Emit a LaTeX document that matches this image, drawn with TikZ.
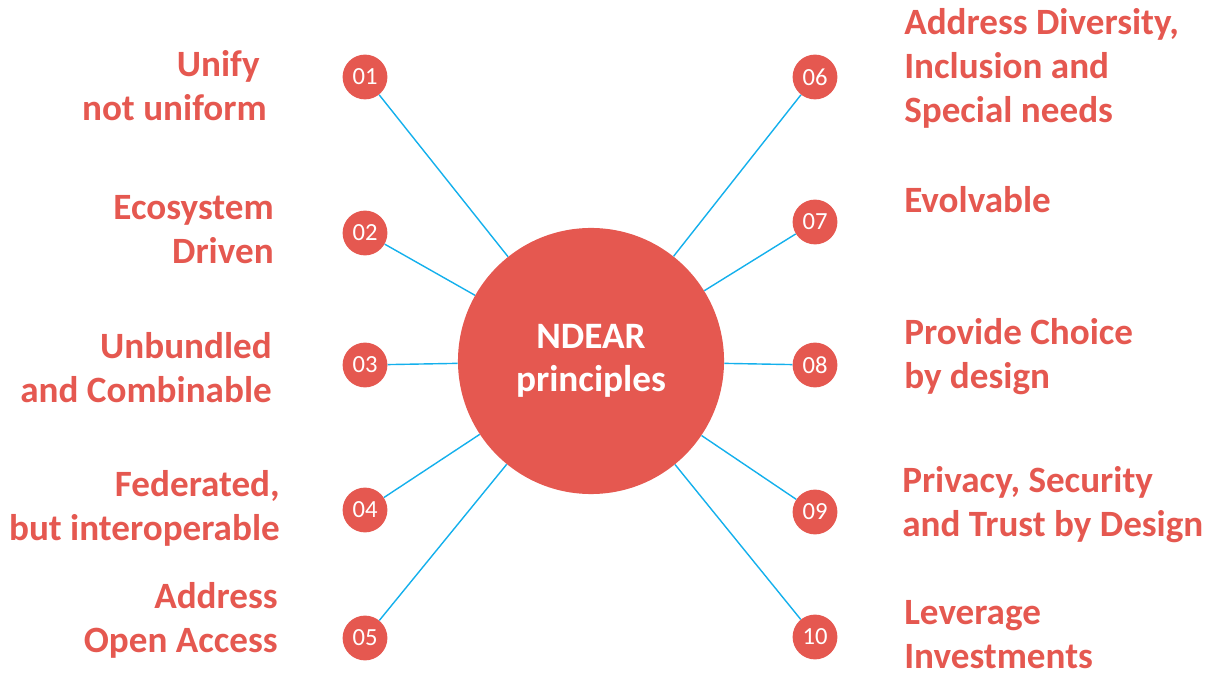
\documentclass[tikz,border=0pt]{standalone}
\usepackage{fontspec}
\setmainfont{Carlito}
\usetikzlibrary{positioning}

\definecolor{ndred}{RGB}{229,88,80}
\definecolor{ndblue}{RGB}{20,176,236}

\tikzset{
	hub/.style={circle, fill=ndred, minimum size=6.65cm, inner sep=0pt, text=white,
		align=center, font=\fontsize{26.5}{31}\selectfont\bfseries},
	num/.style={circle, fill=ndred, minimum size=1.12cm, inner sep=0pt, text=white,
		font=\fontsize{17.5}{20}\selectfont},
	lbl/.style={text=ndred, inner sep=0pt, font=\fontsize{26.4}{31.3}\selectfont\bfseries},
	spoke/.style={draw=ndblue, line width=1pt}
}

\begin{document}
\begin{tikzpicture}[x=0.025cm, y=-0.025cm]
	\useasboundingbox (0,0) rectangle (1209,674);
	%centre
		\node[hub] (hub) at (591,361) {NDEAR\\principles};
	%left side
		\node[num] (n01) at (365,77) {01};
		\node[num] (n02) at (365,233) {02};
		\node[num] (n03) at (365,365) {03};
		\node[num] (n04) at (365,510) {04};
		\node[num] (n05) at (365,638) {05};
	%right side
		\node[num] (n06) at (815,77) {06};
		\node[num] (n07) at (815,222) {07};
		\node[num] (n08) at (815,365) {08};
		\node[num] (n09) at (815,512) {09};
		\node[num] (n10) at (815,637) {10};
	%spokes
		\draw[spoke] (n01) -- (hub);
		\draw[spoke] (n02) -- (hub);
		\draw[spoke] (n03) -- (hub);
		\draw[spoke] (n04) -- (hub);
		\draw[spoke] (n05) -- (hub);
		\draw[spoke] (n06) -- (hub);
		\draw[spoke] (n07) -- (hub);
		\draw[spoke] (n08) -- (hub);
		\draw[spoke] (n09) -- (hub);
		\draw[spoke] (n10) -- (hub);
	%labels left
		\node[lbl, anchor=east, align=right] (t01) at (267,86) {Unify\hspace*{5pt}\\not uniform};
		\node[lbl, anchor=east, align=right] (t02) at (274,230) {Ecosystem\\Driven};
		\node[lbl, anchor=east, align=right] (t03) at (272,368) {Unbundled\\and Combinable};
		\node[lbl, anchor=east, align=right] (t04) at (280,508) {Federated,\\but interoperable};
		\node[lbl, anchor=east, align=right] (t05) at (278,620) {Address\\Open Access};
	%labels right
		\node[lbl, anchor=west, align=left] (t06) at (904,68) {Address Diversity,\\Inclusion and\\Special needs};
		\node[lbl, anchor=west, align=left] (t07) at (904,200) {Evolvable};
		\node[lbl, anchor=west, align=left] (t08) at (904,357) {Provide Choice\\by design};
		\node[lbl, anchor=west, align=left] (t09) at (902,505) {Privacy, Security\\and Trust by Design};
		\node[lbl, anchor=west, align=left] (t10) at (904,635) {Leverage\\Investments};
\end{tikzpicture}
\end{document}
